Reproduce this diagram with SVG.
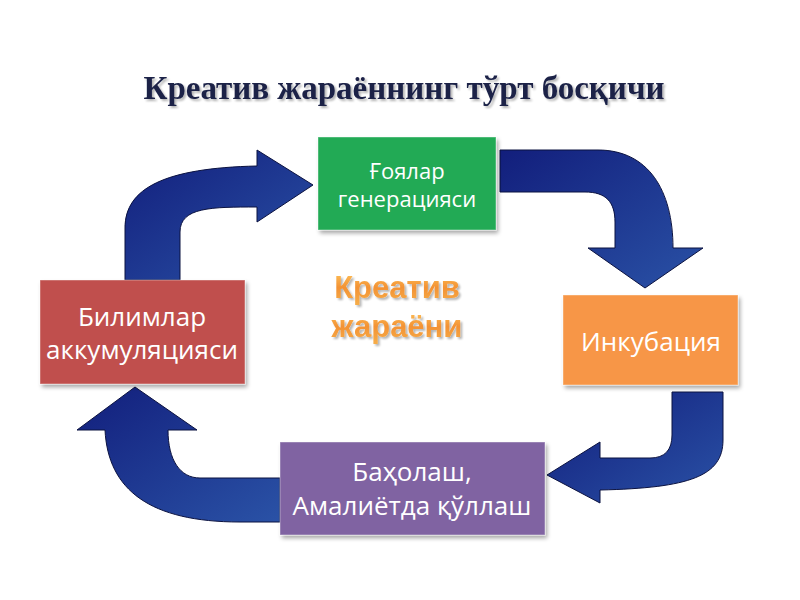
<svg xmlns="http://www.w3.org/2000/svg" width="800" height="600" viewBox="0 0 800 600">
<defs>
<linearGradient id="ag" x1="0" y1="0" x2="1" y2="1">
<stop offset="0" stop-color="#121e7c"/>
<stop offset="1" stop-color="#2a52a6"/>
</linearGradient>
<linearGradient id="og" x1="0" y1="0" x2="0" y2="1">
<stop offset="0" stop-color="#ffc860"/>
<stop offset="0.5" stop-color="#f39234"/>
<stop offset="1" stop-color="#f6ae4a"/>
</linearGradient>
<filter id="sh" x="-10%" y="-10%" width="130%" height="130%">
<feGaussianBlur in="SourceAlpha" stdDeviation="2"/>
<feOffset dx="2" dy="3"/>
<feComponentTransfer><feFuncA type="linear" slope="0.35"/></feComponentTransfer>
<feMerge><feMergeNode/><feMergeNode in="SourceGraphic"/></feMerge>
</filter>
<filter id="tsh" x="-5%" y="-20%" width="110%" height="150%">
<feGaussianBlur in="SourceAlpha" stdDeviation="1"/>
<feOffset dx="1.5" dy="2"/>
<feComponentTransfer><feFuncA type="linear" slope="0.3"/></feComponentTransfer>
<feMerge><feMergeNode/><feMergeNode in="SourceGraphic"/></feMerge>
</filter>
</defs>
<style>
.box{stroke:#ffffff;stroke-opacity:0.4;stroke-width:1;filter:url(#sh)}
.lbl{font-family:"Open Sans","Noto Sans",sans-serif;fill:#ffffff;text-anchor:middle}
.arr{fill:url(#ag);stroke:#0b1240;stroke-width:1}
.title{font-family:"Liberation Serif",serif;font-weight:bold;font-size:33px;fill:#1a2046;text-anchor:middle;filter:url(#tsh)}
.ctr{font-family:"Liberation Sans",sans-serif;font-weight:bold;font-size:31px;fill:url(#og);text-anchor:middle;filter:url(#tsh)}
</style>
<rect width="800" height="600" fill="#ffffff"/>
<text class="title" x="404" y="99">Креатив жараённинг тўрт босқичи</text>
<g id="connectors">
<path class="arr" d="M125,280 L125,228 C125,188 165,168 257,166 L257,150 L313,185 L257,222 L257,207 C212,207 180,207 180,232 L180,280 Z"/>
<path class="arr" d="M500,150 L598,150 C648,150 673,190 673,248 L703,248 L645,288 L588,248 L615,248 L615,222 C615,202 606,192 585,192 L500,192 Z"/>
<path class="arr" d="M672,392 L723,392 L723,440 C723,476 690,488 600,490 L600,503 L547,475 L600,442 L600,458 L650,458 C665,458 672,450 672,435 Z"/>
<path class="arr" d="M280,478 L200,478 C180,478 168,460 168,430 L197,430 L135,387 L77,430 L105,430 C108,490 150,522 240,522 L280,522 Z"/>
</g>
<g id="center-label">
<text class="ctr" x="397" y="298">Креатив</text>
<text class="ctr" x="397" y="337">жараёни</text>
</g>
<g id="node-ideas">
<rect class="box" x="318" y="137" width="178" height="93" fill="#22aa55"/>
<text class="lbl" x="407" y="179" font-size="22">Ғоялар</text>
<text class="lbl" x="407" y="207" font-size="22">генерацияси</text>
</g>
<g id="node-incubation">
<rect class="box" x="563" y="295" width="175" height="90" fill="#f79646"/>
<text class="lbl" x="651" y="351" font-size="26">Инкубация</text>
</g>
<g id="node-evaluation">
<rect class="box" x="280" y="442" width="265" height="93" fill="#8064a2"/>
<text class="lbl" x="412" y="481" font-size="26">Баҳолаш,</text>
<text class="lbl" x="412" y="515" font-size="26">Амалиётда қўллаш</text>
</g>
<g id="node-knowledge">
<rect class="box" x="40" y="280" width="205" height="104" fill="#c0504d"/>
<text class="lbl" x="142" y="326" font-size="26">Билимлар</text>
<text class="lbl" x="142" y="359" font-size="26">аккумуляцияси</text>
</g>
</svg>
